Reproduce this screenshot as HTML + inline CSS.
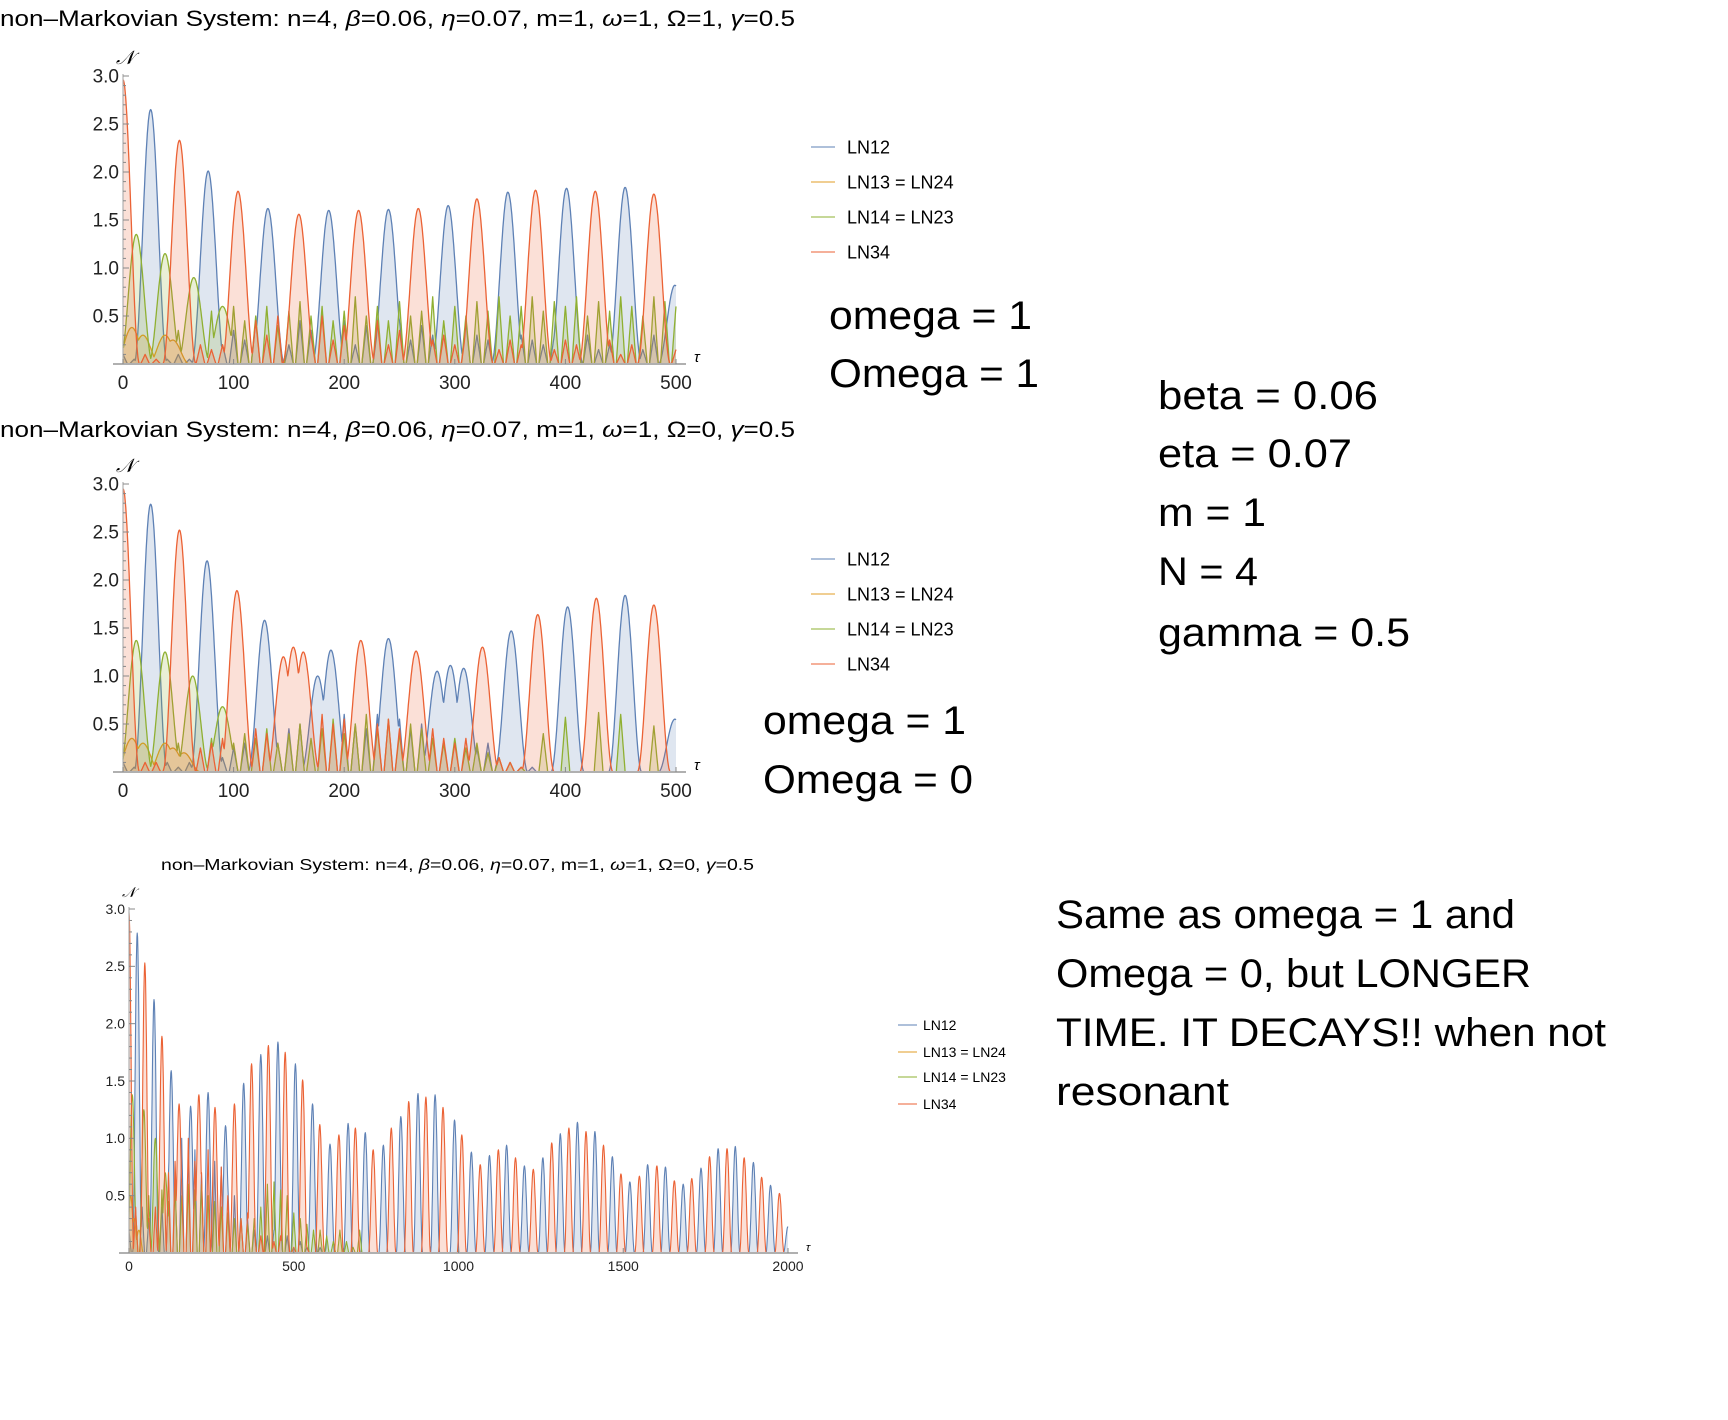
<!DOCTYPE html>
<html><head><meta charset="utf-8"><title>non-Markovian System plots</title>
<style>
html,body{margin:0;padding:0;background:#fff;}
svg{display:block;}
text{font-family:"Liberation Sans",sans-serif;fill:#000;}
.tick{font-size:19px;fill:#222;}
.tick3{font-size:14px;fill:#222;}
.big{font-size:40px;}
</style></head>
<body>
<svg id="root" width="1728" height="1420" viewBox="0 0 1728 1420" xmlns="http://www.w3.org/2000/svg">
  <rect width="1728" height="1420" fill="#fff"/>
  <text x="0" y="26" font-size="22" textLength="795" lengthAdjust="spacingAndGlyphs">non–Markovian System: n=4, <tspan font-style="italic">β</tspan>=0.06, <tspan font-style="italic">η</tspan>=0.07, m=1, <tspan font-style="italic">ω</tspan>=1, Ω=1, <tspan font-style="italic">γ</tspan>=0.5</text>
  <text x="0" y="437" font-size="22" textLength="795" lengthAdjust="spacingAndGlyphs">non–Markovian System: n=4, <tspan font-style="italic">β</tspan>=0.06, <tspan font-style="italic">η</tspan>=0.07, m=1, <tspan font-style="italic">ω</tspan>=1, Ω=0, <tspan font-style="italic">γ</tspan>=0.5</text>
  <text x="161" y="870" font-size="16" textLength="593" lengthAdjust="spacingAndGlyphs">non–Markovian System: n=4, <tspan font-style="italic">β</tspan>=0.06, <tspan font-style="italic">η</tspan>=0.07, m=1, <tspan font-style="italic">ω</tspan>=1, Ω=0, <tspan font-style="italic">γ</tspan>=0.5</text>

  <g>
    <text class="big" x="829" y="329" textLength="203" lengthAdjust="spacingAndGlyphs">omega = 1</text>
    <text class="big" x="829" y="387" textLength="210" lengthAdjust="spacingAndGlyphs">Omega = 1</text>
  </g>
  <g>
    <text class="big" x="763" y="734" textLength="203" lengthAdjust="spacingAndGlyphs">omega = 1</text>
    <text class="big" x="763" y="793" textLength="210" lengthAdjust="spacingAndGlyphs">Omega = 0</text>
  </g>
  <g>
    <text class="big" x="1158" y="409" textLength="220" lengthAdjust="spacingAndGlyphs">beta = 0.06</text>
    <text class="big" x="1158" y="467" textLength="194" lengthAdjust="spacingAndGlyphs">eta = 0.07</text>
    <text class="big" x="1158" y="526" textLength="108" lengthAdjust="spacingAndGlyphs">m = 1</text>
    <text class="big" x="1158" y="585" textLength="100" lengthAdjust="spacingAndGlyphs">N = 4</text>
    <text class="big" x="1158" y="646" textLength="252" lengthAdjust="spacingAndGlyphs">gamma = 0.5</text>
  </g>
  <g>
    <text class="big" x="1056" y="928" font-size="42" textLength="459" lengthAdjust="spacingAndGlyphs">Same as omega = 1 and</text>
    <text class="big" x="1056" y="987" font-size="42" textLength="475" lengthAdjust="spacingAndGlyphs">Omega = 0, but LONGER</text>
    <text class="big" x="1056" y="1046" font-size="42" textLength="550" lengthAdjust="spacingAndGlyphs">TIME. IT DECAYS!! when not</text>
    <text class="big" x="1056" y="1105" font-size="42" textLength="173" lengthAdjust="spacingAndGlyphs">resonant</text>
  </g>
  <g id="plots"></g>
</svg>
<script>
// ---------- Plot 1 data (Omega = 1, tau 0..500) ----------
const p1BlueT = [25,77,131,186,240,294,348,401,454,499];
const p1BlueH = [2.65,2.01,1.62,1.6,1.61,1.65,1.79,1.83,1.84,0.82];
const p1RedT = [0,51,104,159,213,267,320,373,427,480];
const p1RedH = [2.96,2.33,1.8,1.56,1.6,1.62,1.72,1.81,1.8,1.77];
const p1GreenT = [12,38,64,90];
const p1GreenH = [1.35,1.15,0.9,0.6];
const p1OrangeT = [8,18,38,45];
const p1OrangeH = [0.38,0.3,0.3,0.25];
const p1BlueNoise = [0.1,0.05,0,0,0.05,0.1,0.05,0.15,0.3,0.2,0.35,0.25,0.45,0.3,0.5,0.2,0.45,0.35,0.5,0.3,0.45,0.2,0.4,0.35,0.3,0.45,0.25,0.4,0.3,0.35,0.2,0.45,0.3,0.25,0.35,0.2,0.3,0.25,0.2,0.3,0.2,0.25,0.3,0.15,0.2,0.25,0.2,0.15,0.3,0.2,0.1];
const p1RedNoise = [0.3,0.2,0.1,0.05,0.1,0.15,0.1,0.2,0.15,0.2,0.3,0.15,0.45,0.3,0.5,0.35,0.45,0.3,0.5,0.25,0.4,0.35,0.3,0.45,0.2,0.35,0.3,0.4,0.25,0.3,0.2,0.35,0.25,0.3,0.15,0.25,0.2,0.3,0.2,0.15,0.25,0.2,0.15,0.2,0.25,0.1,0.2,0.15,0.2,0.1,0.15];
const p1GreenNoise = [0.2,0.3,0.2,0.25,0.3,0.35,0.5,0.3,0.55,0.4,0.6,0.45,0.5,0.6,0.4,0.55,0.65,0.5,0.6,0.45,0.55,0.7,0.5,0.6,0.45,0.65,0.5,0.55,0.7,0.45,0.6,0.5,0.65,0.55,0.7,0.5,0.6,0.7,0.55,0.65,0.6,0.7,0.5,0.65,0.55,0.7,0.6,0.5,0.7,0.65,0.6];

// ---------- Plot 2 data (Omega = 0, tau 0..500) ----------
const p2BlueT = [25,76,128,176,188,240,284,296,308,351,402,454,499];
const p2BlueH = [2.79,2.2,1.58,1.0,1.27,1.39,1.05,1.11,1.08,1.47,1.72,1.84,0.55];
const p2RedT = [0,51,103,145,154,163,215,265,325,375,428,480];
const p2RedH = [2.95,2.52,1.89,1.2,1.3,1.25,1.37,1.26,1.3,1.64,1.81,1.74];
const p2GreenT = [12,38,63,90];
const p2GreenH = [1.37,1.25,1.0,0.68];
const p2OrangeT = [8,18,38,45,55];
const p2OrangeH = [0.35,0.3,0.3,0.25,0.2];
const p2BlueNoise = [0.1,0.05,0,0.05,0.1,0.05,0.1,0.15,0.2,0.15,0.25,0.3,0.2,0.35,0.3,0.45,0.5,0.4,0.55,0.45,0.6,0.5,0.45,0.6,0.5,0.55,0.45,0.5,0.4,0.35,0.3,0.35,0.25,0.3,0.2,0.15,0.1,0.05,0,0,0,0,0,0,0,0,0,0,0,0,0];
const p2RedNoise = [0.3,0.2,0.1,0.1,0.15,0.2,0.15,0.25,0.3,0.35,0.4,0.35,0.45,0.4,0.5,0.45,0.55,0.5,0.6,0.5,0.55,0.45,0.6,0.5,0.55,0.45,0.5,0.4,0.45,0.35,0.3,0.35,0.25,0.2,0.15,0.1,0.05,0,0,0,0,0,0,0,0,0,0,0,0,0,0];
const p2GreenNoise = [0.1,0.2,0.15,0.2,0.25,0.3,0.2,0.3,0.35,0.25,0.3,0.4,0.35,0.45,0.3,0.4,0.5,0.35,0.45,0.55,0.4,0.5,0.6,0.45,0.55,0.4,0.5,0.45,0.35,0.3,0.35,0.25,0.3,0.2,0.15,0.1,0.05,0,0.4,0,0.57,0,0,0.62,0,0.6,0,0,0.48,0,0];

// ---------- Plot 3 data (Omega = 0, tau 0..2000) ----------
const p3BlueT = [25,76,128,187,240,293,348,400,452,505,557,610,665,717,772,825,877,929,988,1039,1094,1146,1200,1256,1309,1361,1414,1467,1520,1574,1628,1682,1736,1788,1840,1895,1947,2000];
const p3BlueH = [2.79,2.21,1.59,1.28,1.4,1.11,1.48,1.73,1.84,1.65,1.3,0.95,1.13,1.05,0.94,1.19,1.39,1.38,1.16,0.88,0.85,0.94,0.76,0.83,1.04,1.14,1.06,0.84,0.62,0.77,0.75,0.6,0.74,0.91,0.93,0.79,0.59,0.23];
const p3RedT = [0,48,100,152,212,261,320,372,423,474,527,579,637,687,741,796,849,901,953,1010,1066,1121,1173,1227,1283,1335,1387,1440,1493,1549,1602,1655,1708,1762,1815,1867,1920,1974];
const p3RedH = [2.97,2.53,1.89,1.3,1.38,1.27,1.3,1.65,1.81,1.75,1.51,1.12,1.03,1.09,0.9,1.09,1.32,1.36,1.27,1.03,0.77,0.9,0.83,0.73,0.96,1.09,1.06,0.94,0.69,0.67,0.76,0.63,0.65,0.84,0.91,0.83,0.66,0.52];
const p3GreenT = [10,45,80,110];
const p3GreenH = [1.38,1.25,1.0,0.7];
const p3OrangeT = [5,15,30];
const p3OrangeH = [0.5,0.3,0.2];
const p3BlueNoise = [0.2,0.3,0.4,0.3,0.5,0.4,0.7,0.6,1.0,0.8,0.9,0.7,1.05,0.8,0.75,0.6,0.5,0.4,0.3,0.2,0.25,0.15,0.2,0.1,0.15,0.1,0.1,0.05,0.1,0.05,0.05,0,0,0,0,0];
const p3RedNoise = [0.6,0.4,0.5,0.3,0.4,0.5,0.7,0.8,0.6,1.0,0.8,0.7,0.9,0.6,0.75,0.5,0.45,0.3,0.35,0.2,0.15,0.2,0.1,0.15,0.1,0.05,0.1,0.05,0,0,0,0,0,0,0,0];
const p3GreenNoise = [0.3,0.4,0.3,0.5,0.4,0.55,0.45,0.6,0.5,0.6,0.55,0.6,0.5,0.45,0.4,0.35,0.3,0.3,0.25,0.3,0.4,0.6,0.62,0.55,0.5,0.35,0.3,0.25,0.2,0.2,0.15,0.1,0.2,0.1,0.05,0.2];

// ---------- Axis tick labels & legend ----------
const yTickVals = [0.5,1.0,1.5,2.0,2.5,3.0];
const yTickLabels = ["0.5","1.0","1.5","2.0","2.5","3.0"];
const xTicks500 = [0,100,200,300,400,500];
const xTicks2000 = [0,500,1000,1500,2000];
const legendLabels = ["LN12","LN13 = LN24","LN14 = LN23","LN34"];
const COLORS = ["#5E81B5","#E19C24","#8FB032","#EB6235"];

const NS = "http://www.w3.org/2000/svg";
const root = document.getElementById("plots");
function mk(tag, attrs, parent){
  const e = document.createElementNS(NS, tag);
  for (const k in attrs) e.setAttribute(k, attrs[k]);
  (parent||root).appendChild(e);
  return e;
}

function seriesValue(t, peaksT, peaksH, noise, noiseStep, noiseHW, peakHW){
  let v = 0;
  for (let i=0;i<peaksT.length;i++){
    const d = Math.abs(t - peaksT[i]);
    if (d < peakHW){ const c = Math.cos(Math.PI/2*d/peakHW); v = Math.max(v, peaksH[i]*c*c); }
  }
  if (noise){
    const idx = Math.round(t/noiseStep);
    for (let j=idx-1;j<=idx+1;j++){
      if (j<0||j>=noise.length) continue;
      const d = Math.abs(t - j*noiseStep);
      if (d < noiseHW) v = Math.max(v, noise[j]*(1-d/noiseHW));
    }
  }
  return v;
}

function drawPlot(cfg){
  const g = mk("g", {});
  
  
  const sx = t => cfg.x0 + t/cfg.tMax*(cfg.x1 - cfg.x0);
  const sy = v => cfg.y0 - v/3*(cfg.y0 - cfg.y3);
  cfg.series.forEach((s) => {
    let line = "", area = "M" + sx(0).toFixed(1) + "," + cfg.y0;
    for (let t=0; t<=cfg.tEnd; t+=cfg.dt){
      const v = seriesValue(t, s.T, s.H, s.noise, cfg.noiseStep, cfg.noiseHW, cfg.peakHW);
      const px = sx(t).toFixed(1), py = sy(v).toFixed(1);
      line += (line ? "L" : "M") + px + "," + py;
      area += "L" + px + "," + py;
    }
    area += "L" + sx(cfg.tEnd).toFixed(1) + "," + cfg.y0 + "Z";
    const a = mk("path", {d: area, fill: s.color, "fill-opacity": 0.2, stroke: "none"}, g);
    
    
    const l = mk("path", {d: line, fill: "none", stroke: s.color, "stroke-width": cfg.lw, "stroke-linejoin": "round"}, g);
    
    
  });
  const xa = mk("line", {x1: cfg.x0 - 10, y1: cfg.y0, x2: cfg.x1 + 10, y2: cfg.y0, stroke: "#b0b0b0", "stroke-width": 2}, g);
  
  
  const ya = mk("line", {x1: cfg.x0, y1: cfg.y0, x2: cfg.x0, y2: cfg.y3 - 2, stroke: "#b0b0b0", "stroke-width": 1.2}, g);
  
  
  for (let k=1;k<=30;k++){
    const v = k/10, major = (k%5===0);
    mk("line", {x1: cfg.x0, y1: sy(v), x2: cfg.x0 + (major?6:3), y2: sy(v), stroke: "#888", "stroke-width": 1}, g);
  }
  yTickVals.forEach((v,i) => {
    const t = mk("text", {x: cfg.x0 - 4, y: sy(v) + cfg.fs*0.35, "text-anchor": "end", class: cfg.tickClass}, g);
    t.textContent = yTickLabels[i];
    
    
  });
  cfg.xTicks.forEach(v => {
    mk("line", {x1: sx(v), y1: cfg.y0, x2: sx(v), y2: cfg.y0 - 5, stroke: "#888", "stroke-width": 1}, g);
    const t = mk("text", {x: sx(v), y: cfg.y0 + cfg.fs + cfg.xlGap, "text-anchor": "middle", class: cfg.tickClass}, g);
    t.textContent = String(v);
    
    
  });
  const yl = mk("text", {x: cfg.x0 - 7, y: cfg.y3 - 12, "font-style": "italic", "font-size": cfg.fs, "font-family": "Liberation Serif, serif"}, g);
  yl.textContent = "𝒩";
  
  
  const xl = mk("text", {x: cfg.x1 + 18, y: cfg.y0 - 2, "font-style": "italic", "font-size": cfg.fs*0.8, "font-family": "Liberation Serif, serif"}, g);
  xl.textContent = "τ";
  
  
  const lg = mk("g", {}, root);
  
  
  legendLabels.forEach((lab, i) => {
    const ly = cfg.legY[i];
    const entry = mk("g", {}, lg);
    
    
    mk("line", {x1: cfg.legX, y1: ly, x2: cfg.legX + cfg.legLen, y2: ly, stroke: COLORS[i], "stroke-width": 1.2, "stroke-opacity": 0.8}, entry);
    const t = mk("text", {x: cfg.legX + cfg.legLen + cfg.legGap, y: ly + cfg.legFs*0.36, "font-size": cfg.legFs}, entry);
    t.textContent = lab;
  });
}

drawPlot({name: "plot1-omega1", prefix: "plot1", x0: 123, x1: 676, y0: 364, y3: 76, tMax: 500, tEnd: 500, dt: 0.5,
  noiseStep: 10, noiseHW: 4, peakHW: 15, lw: 1.3, fs: 19, xlGap: 6, tickClass: "tick", xTicks: xTicks500,
  legX: 811, legLen: 24, legGap: 12, legFs: 18, legY: [147,182,217,252],
  series: [
    {key: "ln12", color: COLORS[0], T: p1BlueT, H: p1BlueH, noise: p1BlueNoise},
    {key: "ln13", color: COLORS[1], T: p1OrangeT, H: p1OrangeH, noise: null},
    {key: "ln14", color: COLORS[2], T: p1GreenT, H: p1GreenH, noise: p1GreenNoise},
    {key: "ln34", color: COLORS[3], T: p1RedT, H: p1RedH, noise: p1RedNoise}
  ]});
drawPlot({name: "plot2-omega0", prefix: "plot2", x0: 123, x1: 676, y0: 772, y3: 484, tMax: 500, tEnd: 500, dt: 0.5,
  noiseStep: 10, noiseHW: 4, peakHW: 15, lw: 1.3, fs: 19, xlGap: 6, tickClass: "tick", xTicks: xTicks500,
  legX: 811, legLen: 24, legGap: 12, legFs: 18, legY: [559,594,629,664],
  series: [
    {key: "ln12", color: COLORS[0], T: p2BlueT, H: p2BlueH, noise: p2BlueNoise},
    {key: "ln13", color: COLORS[1], T: p2OrangeT, H: p2OrangeH, noise: null},
    {key: "ln14", color: COLORS[2], T: p2GreenT, H: p2GreenH, noise: p2GreenNoise},
    {key: "ln34", color: COLORS[3], T: p2RedT, H: p2RedH, noise: p2RedNoise}
  ]});
drawPlot({name: "plot3-long-time", prefix: "plot3", x0: 129, x1: 788, y0: 1253, y3: 909, tMax: 2000, tEnd: 2000, dt: 1,
  noiseStep: 20, noiseHW: 7, peakHW: 14, lw: 1.1, fs: 14, xlGap: 4, tickClass: "tick3", xTicks: xTicks2000,
  legX: 898, legLen: 19, legGap: 6, legFs: 14, legY: [1025,1052,1077,1104],
  series: [
    {key: "ln12", color: COLORS[0], T: p3BlueT, H: p3BlueH, noise: p3BlueNoise},
    {key: "ln13", color: COLORS[1], T: p3OrangeT, H: p3OrangeH, noise: null},
    {key: "ln14", color: COLORS[2], T: p3GreenT, H: p3GreenH, noise: p3GreenNoise},
    {key: "ln34", color: COLORS[3], T: p3RedT, H: p3RedH, noise: p3RedNoise}
  ]});
</script>
</body></html>
